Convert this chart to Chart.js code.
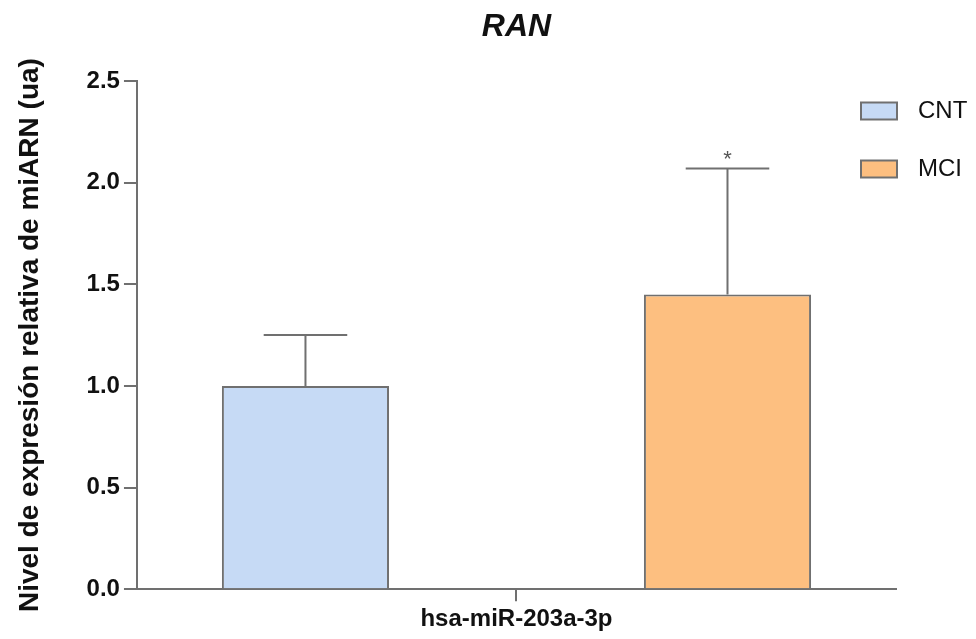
<!DOCTYPE html>
<html lang="es">
<head>
<meta charset="utf-8">
<title>RAN</title>
<script src="https://cdn.jsdelivr.net/npm/chart.js@4/dist/chart.umd.min.js"></script>
<style>
  html, body { margin: 0; padding: 0; background: #fff; }
  #contenedor { width: 976px; height: 639px; position: relative; }
</style>
</head>
<body>
<div id="contenedor"><canvas id="grafica"></canvas></div>
<script>
const etiquetas = ["hsa-miR-203a-3p"];
const grupos = ["CNT", "MCI"];
const mediaCNT = [1.0];
const mediaMCI = [1.45];
const errorCNT = [0.25];
const errorMCI = [0.62];
const marcaCNT = [""];
const marcaMCI = ["*"];
const ticksY = [0, 0.5, 1.0, 1.5, 2.0, 2.5];

const FUENTE = "'Liberation Sans', Arial, sans-serif";
const GRIS = "#707070";

// barras de error (solo hacia arriba) y asterisco de significancia
const barrasError = {
    id: "barrasError",
    afterDatasetsDraw(chart) {
        const { ctx } = chart;
        const y = chart.scales.y;
        ctx.save();
        ctx.strokeStyle = GRIS;
        ctx.lineWidth = 2;
        chart.data.datasets.forEach((ds, i) => {
            const meta = chart.getDatasetMeta(i);
            meta.data.forEach((barra, j) => {
                const tope = y.getPixelForValue(ds.data[j] + ds.errores[j]);
                const medio = barra.width / 4;
                ctx.beginPath();
                ctx.moveTo(barra.x, barra.y);
                ctx.lineTo(barra.x, tope);
                ctx.moveTo(barra.x - medio, tope);
                ctx.lineTo(barra.x + medio, tope);
                ctx.stroke();
                if (ds.marcas[j]) {
                    ctx.fillStyle = "#555";
                    ctx.font = "22px " + FUENTE;
                    ctx.textAlign = "center";
                    ctx.textBaseline = "alphabetic";
                    ctx.fillText(ds.marcas[j], barra.x, tope - 2);
                }
            });
        });
        ctx.restore();
    },
};

// leyenda a la derecha, sobre el final del eje x
const leyenda = {
    id: "leyenda",
    afterDraw(chart) {
        const { ctx } = chart;
        const x0 = chart.chartArea.right - 35;
        ctx.save();
        chart.data.datasets.forEach((ds, i) => {
            const yc = 111 + i * 58;
            ctx.fillStyle = ds.backgroundColor;
            ctx.strokeStyle = GRIS;
            ctx.lineWidth = 2;
            ctx.fillRect(x0, yc - 8.5, 36, 17);
            ctx.strokeRect(x0, yc - 8.5, 36, 17);
            ctx.fillStyle = "#111";
            ctx.font = "24px " + FUENTE;
            ctx.textAlign = "left";
            ctx.textBaseline = "middle";
            ctx.fillText(ds.label, x0 + 57, yc);
        });
        ctx.restore();
    },
};

const ctx = document.getElementById("grafica");
const grafica = new Chart(ctx, {
    type: "bar",
    data: {
        labels: etiquetas,
        datasets: [
            {
                label: grupos[0],
                data: mediaCNT,
                errores: errorCNT,
                marcas: marcaCNT,
                backgroundColor: "#c6daf5",
                borderColor: GRIS,
                borderWidth: 2,
            },
            {
                label: grupos[1],
                data: mediaMCI,
                errores: errorMCI,
                marcas: marcaMCI,
                backgroundColor: "#fdbf80",
                borderColor: GRIS,
                borderWidth: 2,
            },
        ],
    },
    options: {
        responsive: true,
        maintainAspectRatio: false,
        animation: false,
        categoryPercentage: 1.112,
        barPercentage: 0.396,
        layout: { padding: { left: 0, right: 80, top: 0, bottom: 1 } },
        plugins: {
            legend: { display: false },
            tooltip: { enabled: false },
            title: {
                display: true,
                text: "RAN",
                fullSize: false,
                color: "#111",
                font: { family: FUENTE, size: 32, weight: "bold", style: "italic" },
                padding: { top: 7.5, bottom: 35.1 },
            },
        },
        scales: {
            x: {
                type: "category",
                grid: { display: true, drawOnChartArea: false, offset: false, color: GRIS, lineWidth: 2, tickLength: 12 },
                border: { color: GRIS, width: 2 },
                ticks: { color: "#111", padding: 4, font: { family: FUENTE, size: 24, weight: "bold" } },
            },
            y: {
                min: ticksY[0],
                max: ticksY[ticksY.length - 1],
                afterBuildTicks: (eje) => { eje.ticks = ticksY.map((v) => ({ value: v })); },
                grid: { display: true, drawOnChartArea: false, color: GRIS, lineWidth: 2, tickLength: 13 },
                border: { color: GRIS, width: 2 },
                ticks: {
                    color: "#111",
                    padding: 4,
                    font: { family: FUENTE, size: 24, weight: "bold" },
                    callback: (v) => Number(v).toFixed(1),
                },
                title: {
                    display: true,
                    text: "Nivel de expresión relativa de miARN (ua)",
                    color: "#111",
                    font: { family: FUENTE, size: 28, weight: "bold" },
                    padding: { top: 13, bottom: 36 },
                },
            },
        },
    },
    plugins: [barrasError, leyenda],
});
</script>
</body>
</html>
